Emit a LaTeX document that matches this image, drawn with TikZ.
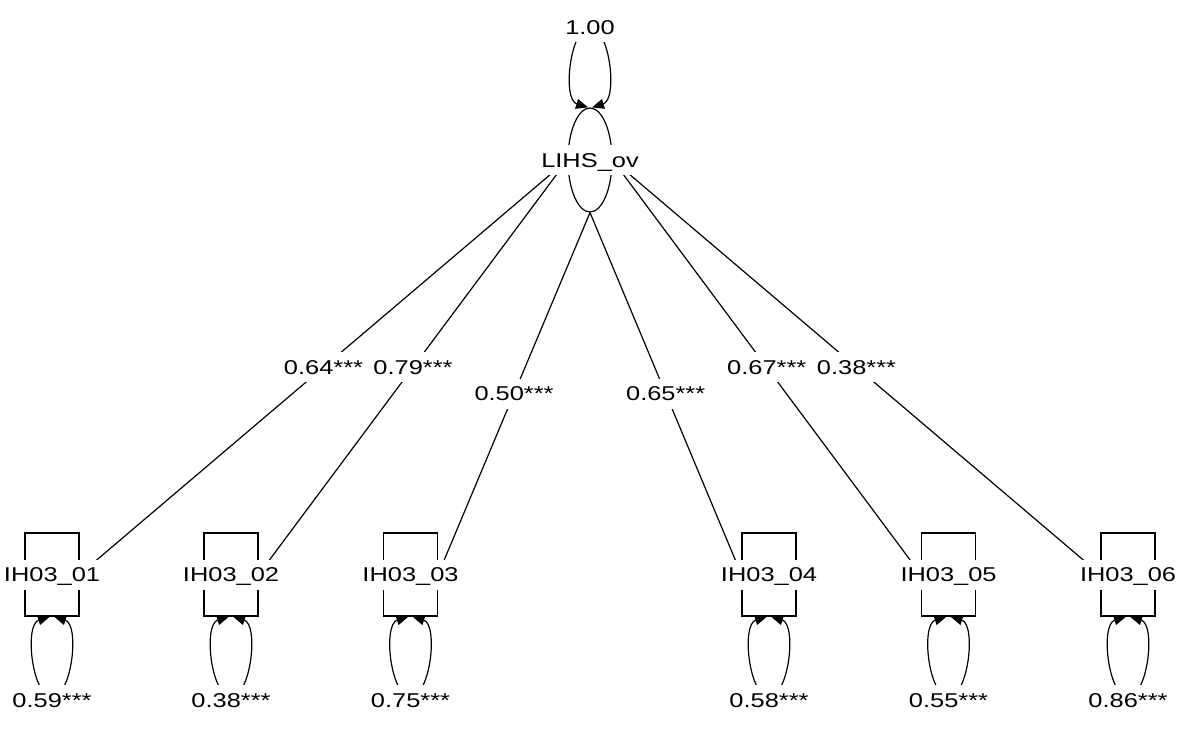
\documentclass[tikz,border=0pt]{standalone}
\usepackage{fontspec}
\setmainfont{Liberation Sans}[FakeStretch=1.27]
\usetikzlibrary{shapes.geometric,arrows.meta}

\begin{document}
\begin{tikzpicture}[x=0.5pt,y=-0.5pt,line width=0.6pt,
                        >={Triangle[length=6pt,width=5pt]},
                        lbl/.style={
                        fill=white, inner sep=2.5pt,
                        text height=8.5pt, text depth=1.5pt,
                        font=\fontsize{10}{12}\selectfont},
                        obs/.style={
                        shape=rectangle, draw, inner sep=0pt,
                        minimum width=27pt, minimum height=41.5pt},
                        lat/.style={
                        shape=ellipse, draw, inner sep=0pt,
                        minimum width=22pt, minimum height=52pt}]
                        \useasboundingbox (0,0) rectangle (1181,734);
                        % latent and observed variables
                        \node [lat] (l0) at (590,160) {};
                        \node [obs] (v1) at (52,574.5) {};
                        \node [obs] (v2) at (231,574.5) {};
                        \node [obs] (v3) at (410.5,574.5) {};
                        \node [obs] (v4) at (769,574.5) {};
                        \node [obs] (v5) at (948.5,574.5) {};
                        \node [obs] (v6) at (1128,574.5) {};
                        % loadings
                        \draw (l0.west) -- node[lbl] (e1) {0.64***} (v1.east);
                        \draw (l0.west) -- node[lbl] (e2) {0.79***} (v2.east);
                        \draw (l0.south) -- node[lbl] (e3) {0.50***} (v3.east);
                        \draw (l0.south) -- node[lbl] (e4) {0.65***} (v4.west);
                        \draw (l0.east) -- node[lbl] (e5) {0.67***} (v5.west);
                        \draw (l0.east) -- node[lbl] (e6) {0.38***} (v6.west);
                        % variances
                        \draw [<->] ([xshift=-1pt]l0.north) .. controls +(-26,-8) and +(-20,0) .. ([yshift=40pt]l0.north) .. controls +(20,0) and +(26,-8) .. ([xshift=1pt]l0.north);
                        \draw [<->] ([xshift=-1pt]v1.south) .. controls +(-26,8) and +(-20,0) .. ([yshift=-40pt]v1.south) .. controls +(20,0) and +(26,8) .. ([xshift=1pt]v1.south);
                        \draw [<->] ([xshift=-1pt]v2.south) .. controls +(-26,8) and +(-20,0) .. ([yshift=-40pt]v2.south) .. controls +(20,0) and +(26,8) .. ([xshift=1pt]v2.south);
                        \draw [<->] ([xshift=-1pt]v3.south) .. controls +(-26,8) and +(-20,0) .. ([yshift=-40pt]v3.south) .. controls +(20,0) and +(26,8) .. ([xshift=1pt]v3.south);
                        \draw [<->] ([xshift=-1pt]v4.south) .. controls +(-26,8) and +(-20,0) .. ([yshift=-40pt]v4.south) .. controls +(20,0) and +(26,8) .. ([xshift=1pt]v4.south);
                        \draw [<->] ([xshift=-1pt]v5.south) .. controls +(-26,8) and +(-20,0) .. ([yshift=-40pt]v5.south) .. controls +(20,0) and +(26,8) .. ([xshift=1pt]v5.south);
                        \draw [<->] ([xshift=-1pt]v6.south) .. controls +(-26,8) and +(-20,0) .. ([yshift=-40pt]v6.south) .. controls +(20,0) and +(26,8) .. ([xshift=1pt]v6.south);
                        % labels
                        \node [lbl] (t0) at (l0) {LIHS\_ov};
                        \node [lbl] (t1) at (v1) {IH03\_01};
                        \node [lbl] (t2) at (v2) {IH03\_02};
                        \node [lbl] (t3) at (v3) {IH03\_03};
                        \node [lbl] (t4) at (v4) {IH03\_04};
                        \node [lbl] (t5) at (v5) {IH03\_05};
                        \node [lbl] (t6) at (v6) {IH03\_06};
                        \node [lbl] (r0) at (590,27) {1.00};
                        \node [lbl] (r1) at (52,700) {0.59***};
                        \node [lbl] (r2) at (231,700) {0.38***};
                        \node [lbl] (r3) at (410.5,700) {0.75***};
                        \node [lbl] (r4) at (769,700) {0.58***};
                        \node [lbl] (r5) at (948.5,700) {0.55***};
                        \node [lbl] (r6) at (1128,700) {0.86***};
                \end{tikzpicture}
\end{document}
